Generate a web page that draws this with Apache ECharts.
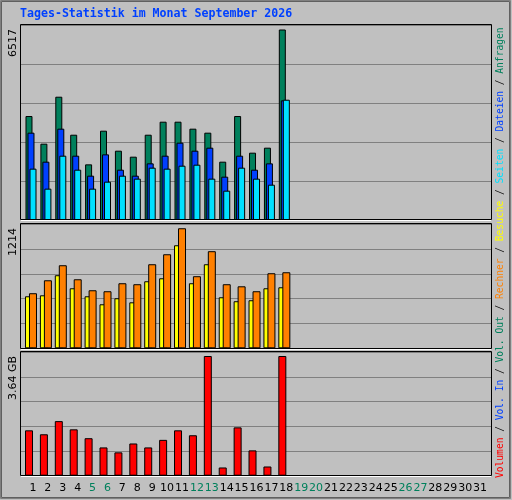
<!DOCTYPE html>
<html><head><meta charset="utf-8">
<script src="https://cdn.jsdelivr.net/npm/echarts@6/dist/echarts.min.js"></script>
<style>html,body{margin:0;padding:0;background:#c0c0c0}#c{width:512px;height:500px}</style>
</head><body><div id="c"></div>
<script>
const days = Array.from({length:31},(_,i)=>String(i+1));
const weekendDays = ['5','6','12','13','19','20','26','27'];
const anfragen = [3557,2611,4218,2918,1904,3055,2371,2166,2918,3363,3363,3124,2987,1995,3557,2303,2474,6517];
const dateien  = [2987,1995,3124,2200,1516,2246,1721,1516,1938,2200,2645,2371,2474,1482,2200,1721,1938,4093];
const seiten   = [1756,1072,2200,1721,1072,1311,1516,1414,1790,1756,1858,1892,1414,1003,1790,1414,1208,4115];
const besuche  = [526,536,739,607,526,445,506,465,678,708,1042,658,850,516,476,486,607,617];
const rechner  = [557,688,840,698,587,577,658,648,850,951,1214,729,982,648,627,577,759,769];
const volumenGB= [1.38,1.26,1.66,1.41,1.14,0.86,0.71,0.98,0.86,1.09,1.38,1.23,3.64,0.25,1.47,0.77,0.28,3.64];
const yLabels = ['6517','1214','3.64 GB'];
const title = 'Tages-Statistik im Monat September 2026';

const pair = a => a.map((v,i)=>[i+1,v]);
const FONT = 'DejaVu Sans Mono';
const GREEN='#00805c', BLUE='#0040ff', CYAN='#00e0ff', YEL='#ffff00', ORA='#ff8000', RED='#ff0000';

const chart = echarts.init(document.getElementById('c'));
function xv(i,a){return {type:'value',gridIndex:i,min:a,max:a+31.54,show:false,splitLine:{show:false}};}
function yv(i,max){return {type:'value',gridIndex:i,min:0,max:max,interval:max/5,axisLabel:{show:false},axisLine:{show:false},axisTick:{show:false},splitLine:{lineStyle:{color:'#808080',width:1}}};}
const bs = (name,data,color,xi,w,gap)=>({name,type:'bar',xAxisIndex:xi,yAxisIndex:xi,data:pair(data),barWidth:w,barGap:gap,itemStyle:{color,borderColor:'#000',borderWidth:1},silent:true,animation:false});

const frames = [[25,195],[224,125],[352,124]].map(([t,h])=>({type:'rect',shape:{x:20.5,y:t-0.5,width:471,height:h},style:{fill:null,stroke:'#000',lineWidth:1},z:10}));
const whites = [220.5,349.5,476.5].map(y=>({type:'line',shape:{x1:21,y1:y,x2:491,y2:y},style:{stroke:'#fff',lineWidth:1},z:11}));

chart.setOption({
  backgroundColor:'#c0c0c0',
  animation:false,
  grid:[
    {left:21,top:25,width:470,height:195},
    {left:21,top:224.3,width:470,height:124},
    {left:21,top:352.3,width:470,height:123.4},
    {left:25.5,top:478,width:462,height:1}
  ],
  xAxis:[xv(0,0.329),xv(1,0.329),xv(2,0.463),
    {type:'category',gridIndex:3,data:days,axisLine:{show:false},axisTick:{show:false},
     axisLabel:{interval:0,margin:4,fontFamily:'DejaVu Sans',fontSize:11,
       color:(v)=>weekendDays.includes(v)?'#00805c':'#000'}}],
  yAxis:[yv(0,6671),yv(1,1254),yv(2,3.753),{type:'value',gridIndex:3,show:false}],
  series:[
    bs('Anfragen',anfragen,GREEN,0,7,'-71.4%'),
    bs('Dateien',dateien,BLUE,0,7,'-71.4%'),
    bs('Seiten',seiten,CYAN,0,7,'-71.4%'),
    bs('Besuche',besuche,YEL,1,8,'-50%'),
    bs('Rechner',rechner,ORA,1,8,'-50%'),
    bs('Volumen',volumenGB,RED,2,8,'0%')
  ],
  graphic:[
    {type:'rect',shape:{x:0.5,y:0.5,width:510,height:498},style:{fill:null,stroke:'#808080',lineWidth:1},z:0},
    {type:'rect',shape:{x:1.5,y:1.5,width:508,height:496},style:{fill:null,stroke:'#606060',lineWidth:1},z:0},
    ...frames, ...whites,
    {type:'text',left:20,top:8,style:{text:title,fill:BLUE,font:'bold 11.6px '+FONT},z:12},
    {type:'text',x:13,y:29,rotation:Math.PI/2,style:{text:yLabels[0],fill:'#000',font:'11px DejaVu Sans',align:'right',verticalAlign:'middle'},z:12},
    {type:'text',x:13,y:228,rotation:Math.PI/2,style:{text:yLabels[1],fill:'#000',font:'11px DejaVu Sans',align:'right',verticalAlign:'middle'},z:12},
    {type:'text',x:13,y:356,rotation:Math.PI/2,style:{text:yLabels[2],fill:'#000',font:'11px DejaVu Sans',align:'right',verticalAlign:'middle'},z:12},
    {type:'text',x:500,y:478,rotation:Math.PI/2,z:12,style:{
      text:'{r|Volumen} {k|/} {b|Vol. In} {k|/} {g|Vol. Out} {k|/} {o|Rechner} {k|/} {y|Besuche} {k|/} {c|Seiten} {k|/} {b|Dateien} {k|/} {g|Anfragen}',
      align:'left',verticalAlign:'middle',font:'9.6px '+FONT,
      rich:{r:{fill:RED,font:'9.6px '+FONT},b:{fill:BLUE,font:'9.6px '+FONT},g:{fill:GREEN,font:'9.6px '+FONT},o:{fill:ORA,font:'9.6px '+FONT},y:{fill:YEL,font:'9.6px '+FONT},c:{fill:CYAN,font:'9.6px '+FONT},k:{fill:'#000',font:'9.6px '+FONT}}}}
  ]
});
</script></body></html>
